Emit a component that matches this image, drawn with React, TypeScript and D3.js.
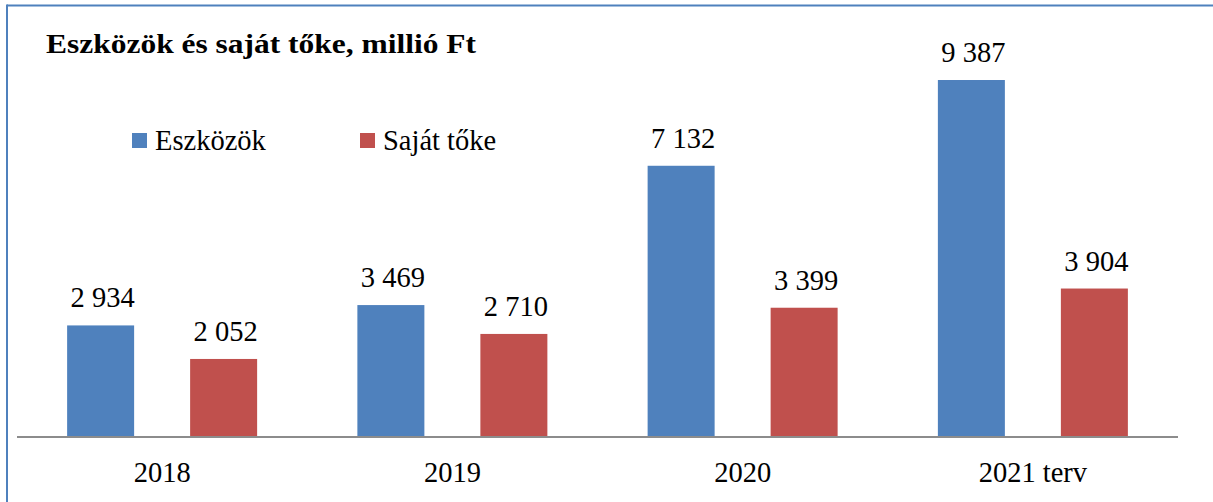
import React from "react";
import * as d3 from "d3";

const categories = ["2018", "2019", "2020", "2021 terv"];
const seriesNames = ["Eszközök", "Saját tőke"];
const eszkozok = [2934, 3469, 7132, 9387];
const sajatToke = [2052, 2710, 3399, 3904];
const seriesColors = ["#4F81BD", "#C0504D"];
const title = "Eszközök és saját tőke, millió Ft";

const W = 1213;
const H = 502;
const FONT = "'Liberation Serif', 'Times New Roman', serif";

export default function App() {
  const x = d3.scaleBand<string>().domain(categories).range([17, 1178]).paddingInner(0).paddingOuter(0);
  const xi = d3
    .scaleBand<string>()
    .domain(seriesNames)
    .range([0, x.bandwidth()])
    .paddingInner(0.4553)
    .paddingOuter(0.4075);
  const y = d3.scaleLinear().domain([0, 10000]).range([437, 56.7]);
  const locale = d3.formatLocale({ decimal: ",", thousands: " ", grouping: [3], currency: ["", " Ft"] });
  const fmt = locale.format(",d");
  const values = [eszkozok, sajatToke];

  return (
    <svg width={W} height={H} style={{ position: "absolute", left: 0, top: 0, background: "#fff" }} fontFamily={FONT}>
      <rect x={0} y={0} width={W} height={H} fill="#fff" />
      {/* frame */}
      <line x1={7} x2={W} y1={5.5} y2={5.5} stroke="#4F81BD" strokeWidth={2} />
      <line x1={7} x2={7} y1={4.5} y2={H} stroke="#4F81BD" strokeWidth={2} />
      {/* title */}
      <text x={46} y={53} fontSize={27} fontWeight="bold" fill="#000" textLength={430} lengthAdjust="spacingAndGlyphs">
        {title}
      </text>
      {/* legend */}
      {seriesNames.map((s, i) => {
        const lx = [132, 360][i];
        return (
          <g key={s}>
            <rect x={lx} y={133} width={15} height={15} fill={seriesColors[i]} />
            <text x={lx + 23} y={150} fontSize={28.5} fill="#000">
              {s}
            </text>
          </g>
        );
      })}
      {/* bars */}
      {categories.map((c, ci) => (
        <g key={c} transform={`translate(${x(c)},0)`}>
          {seriesNames.map((s, si) => {
            const v = values[si][ci];
            const bx = xi(s)!;
            return (
              <g key={s}>
                <rect x={bx} y={y(v)} width={xi.bandwidth()} height={y(0) - y(v)} fill={seriesColors[si]} />
                <text x={bx + xi.bandwidth() / 2 + 2} y={y(v) - 18} fontSize={28.5} textAnchor="middle" fill="#000">
                  {fmt(v)}
                </text>
              </g>
            );
          })}
          <text x={x.bandwidth() / 2} y={482} fontSize={28.5} textAnchor="middle" fill="#000">
            {c}
          </text>
        </g>
      ))}
      {/* axis */}
      <line x1={17} x2={1178} y1={y(0)} y2={y(0)} stroke="#8C8C8C" strokeWidth={2} />
    </svg>
  );
}
